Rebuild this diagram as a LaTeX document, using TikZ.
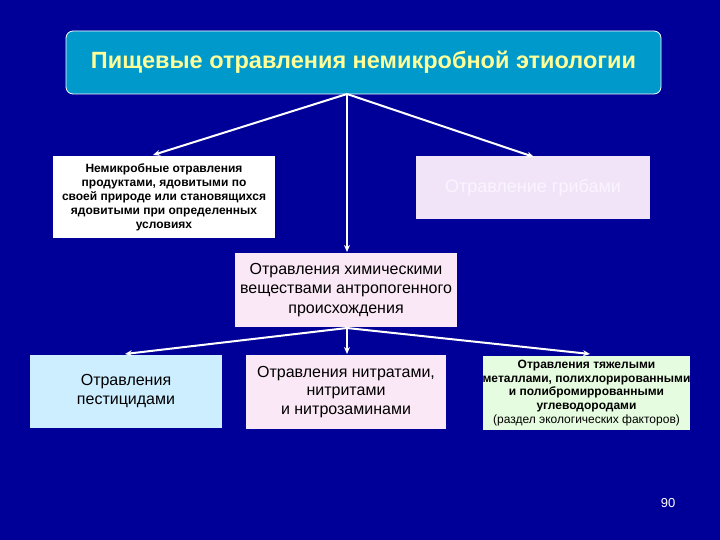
\documentclass[tikz,border=0pt]{standalone}
\usepackage{fontspec}
\setmainfont{Liberation Sans}
\usetikzlibrary{arrows.meta}
\definecolor{bg}{HTML}{000099}
\definecolor{teal}{HTML}{0099CC}
\definecolor{titletxt}{HTML}{FFFF99}
\definecolor{lav}{HTML}{F2E4F8}
\definecolor{lavtxt}{HTML}{FAF4FF}
\definecolor{pinkbox}{HTML}{FBE8F6}
\definecolor{bluebox}{HTML}{CCEEFF}
\definecolor{greenbox}{HTML}{E6FCE0}
\begin{document}
\begin{tikzpicture}[x=1pt,y=-1pt,
  box/.style={draw=none,inner sep=0pt,align=center,text=black},
  conn/.style={draw=white,line width=2pt,-{Stealth[length=7pt,width=6pt]}}]
\fill[bg] (0,0) rectangle (720,540);
\useasboundingbox (0,0) rectangle (720,540);
% top
\node[box,draw=white,line width=0.8pt,fill=teal,rounded corners=7pt,minimum width=595pt,minimum height=63pt,
  text=titletxt,font=\bfseries\fontsize{23.5}{26}\selectfont] (top) at (363.5,62.5) {Пищевые отравления немикробной этиологии};
% second row
\node[box,fill=white,minimum width=222pt,minimum height=82pt,font=\bfseries\fontsize{12}{14}\selectfont] (lb) at (164,197)
  {Немикробные отравления\\продуктами, ядовитыми по\\своей природе или становящихся\\ядовитыми при определенных\\условиях};
\node[box,fill=lav,minimum width=234pt,minimum height=63pt,text=lavtxt,font=\fontsize{18}{20}\selectfont] (gb) at (533,187.5)
  {Отравление грибами};
\node[box,fill=pinkbox,minimum width=222pt,minimum height=74pt,font=\fontsize{16}{19.5}\selectfont] (cb) at (346,290)
  {Отравления химическими\\веществами антропогенного\\происхождения};
% third row
\node[box,fill=bluebox,minimum width=192pt,minimum height=73pt,font=\fontsize{16}{19}\selectfont] (pb) at (126,391.5)
  {Отравления\\пестицидами};
\node[box,fill=pinkbox,minimum width=200pt,minimum height=74pt,font=\fontsize{16}{18.5}\selectfont] (nb) at (346,392)
  {Отравления нитратами,\\нитритами\\ и нитрозаминами};
\node[box,fill=greenbox,minimum width=205pt,minimum height=74pt,font=\fontsize{12}{13.8}\selectfont] (hb) at (586.5,393)
  {\textbf{Отравления тяжелыми}\\\textbf{металлами, полихлорированными}\\\textbf{и полибромиррованными}\\\textbf{углеводородами}\\(раздел экологических факторов)};
\node[text=white,font=\fontsize{13}{15}\selectfont,inner sep=0pt] (pg) at (668,503) {90};
% connector points
\coordinate (s1) at (347,94);
\coordinate (t1) at (153,155);
\coordinate (t2) at (347,252);
\coordinate (t3) at (534,157);
\coordinate (s2) at (347,328);
\coordinate (t4) at (125,354);
\coordinate (t5) at (347,354);
\coordinate (t6) at (590,354);
\draw[conn] (s1) -- (t1);
\draw[conn] (s1) -- (t2);
\draw[conn] (s1) -- (t3);
\draw[conn] (s2) -- (t4);
\draw[conn] (s2) -- (t5);
\draw[conn] (s2) -- (t6);
\end{tikzpicture}
\end{document}
